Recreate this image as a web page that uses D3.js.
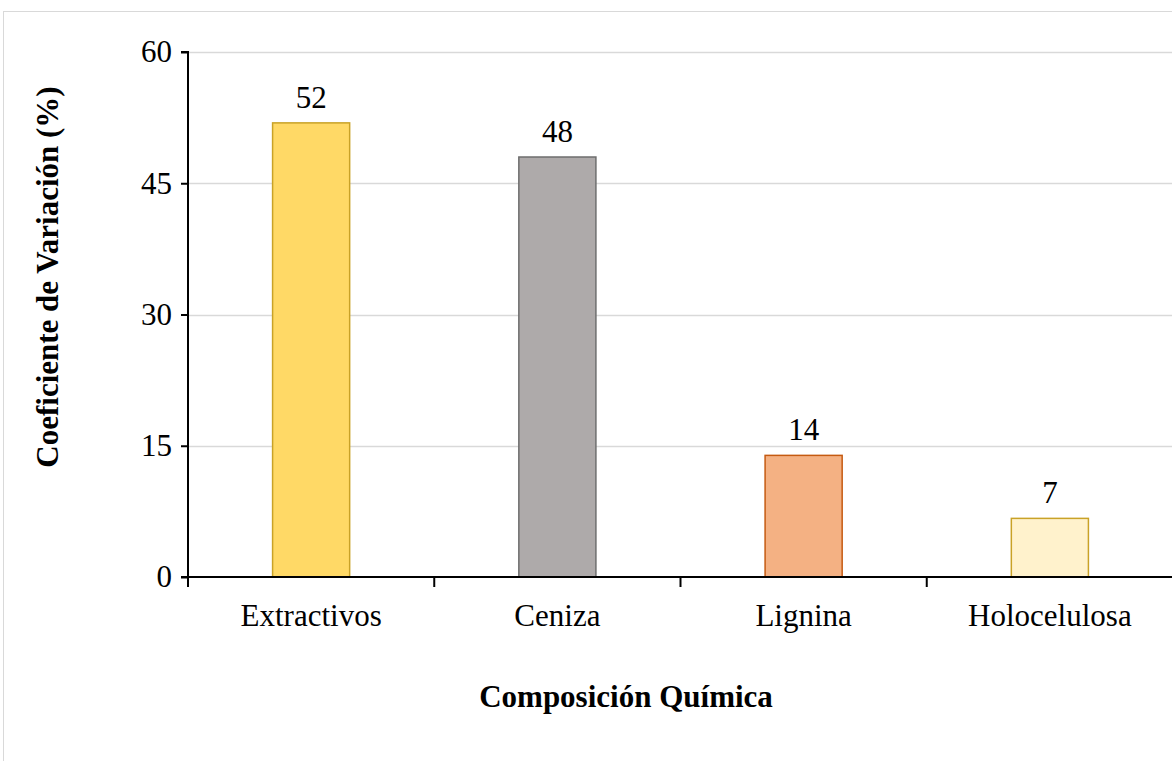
<!DOCTYPE html>
<html lang="es">
  <head>
    <meta charset="utf-8">
    <style>
      body { margin: 0; background: #fff; }
      text { font-family: "Liberation Serif", "Times New Roman", serif; fill: #000; }
    </style>
  </head>
  <body>
  <div id="my_dataviz"></div>

  <script src="https://d3js.org/d3.v7.min.js"></script>
  <script>

// data
var categories = ["Extractivos", "Ceniza", "Lignina", "Holocelulosa"]
var values = [51.9, 48.0, 13.9, 6.7]
var valueLabels = ["52", "48", "14", "7"]
var yTicks = [0, 15, 30, 45, 60]

var fills = ["#FFD966", "#AEAAAA", "#F4B183", "#FFF2CC"]
var strokes = ["#C9A227", "#6E6E6E", "#C55A11", "#C9A227"]

var width = 1172,
    height = 761
var margin = {top: 52, right: 0, bottom: 184, left: 188}
var fs = "31px"

var svg = d3.select("#my_dataviz")
  .append("svg")
    .attr("width", width)
    .attr("height", height)

// chart frame
svg.append("rect")
  .attr("x", 3.5).attr("y", 11.5)
  .attr("width", width).attr("height", height)
  .attr("fill", "none")
  .attr("stroke", "#d9d9d9")

var x = d3.scaleBand()
  .domain(categories)
  .range([margin.left, width + 1])
  .paddingInner(0.687)
  .paddingOuter(0.3435)

var y = d3.scaleLinear()
  .domain([0, 60])
  .range([height - margin.bottom, margin.top])

// gridlines
svg.selectAll(".grid")
  .data(yTicks.filter(function(d){ return d > 0 }))
  .enter()
  .append("line")
    .attr("x1", margin.left)
    .attr("x2", width)
    .attr("y1", function(d){ return Math.round(y(d)) + 0.5 })
    .attr("y2", function(d){ return Math.round(y(d)) + 0.5 })
    .attr("stroke", "#d9d9d9")
    .attr("stroke-width", 1.5)

// bars
svg.selectAll("mybars")
  .data(values)
  .enter()
  .append("rect")
    .attr("x", function(d, i){ return x(categories[i]) })
    .attr("y", function(d){ return y(d) })
    .attr("width", x.bandwidth())
    .attr("height", function(d){ return y(0) - y(d) })
    .attr("fill", function(d, i){ return fills[i] })
    .attr("stroke", function(d, i){ return strokes[i] })
    .attr("stroke-width", 1.5)

// value labels
svg.selectAll("mylabels")
  .data(values)
  .enter()
  .append("text")
    .attr("x", function(d, i){ return x(categories[i]) + x.bandwidth() / 2 })
    .attr("y", function(d){ return y(d) - 15 })
    .attr("text-anchor", "middle")
    .style("font-size", fs)
    .text(function(d, i){ return valueLabels[i] })

// y axis
var yAxis = svg.append("g")
  .attr("transform", "translate(" + margin.left + ",0)")
  .call(d3.axisLeft(y).tickValues(yTicks).tickSize(7).tickPadding(9))
yAxis.selectAll("path, line").attr("stroke", "#000").attr("stroke-width", 2)
yAxis.select(".domain").attr("d", "M-7," + y(60) + "H0V" + y(0))
yAxis.selectAll("text").style("font-size", fs).attr("font-family", null)

// x axis, ticks at band boundaries
var xAxis = svg.append("g")
  .attr("transform", "translate(0," + y(0) + ")")
xAxis.append("line")
  .attr("x1", margin.left - 7).attr("x2", width)
  .attr("stroke", "#000").attr("stroke-width", 2)
xAxis.selectAll(".bt")
  .data(d3.range(categories.length + 1))
  .enter()
  .append("line")
    .attr("x1", function(i){ return margin.left + i * (width + 1 - margin.left) / categories.length })
    .attr("x2", function(i){ return margin.left + i * (width + 1 - margin.left) / categories.length })
    .attr("y1", 0).attr("y2", 10)
    .attr("stroke", "#000").attr("stroke-width", 2)
xAxis.selectAll(".cl")
  .data(categories)
  .enter()
  .append("text")
    .attr("x", function(d){ return x(d) + x.bandwidth() / 2 })
    .attr("y", 49)
    .attr("text-anchor", "middle")
    .style("font-size", fs)
    .text(function(d){ return d })

// axis titles
svg.append("text")
  .attr("x", 626)
  .attr("y", 707)
  .attr("text-anchor", "middle")
  .style("font-size", fs)
  .style("font-weight", "bold")
  .text("Composición Química")

svg.append("text")
  .attr("transform", "translate(58,277) rotate(-90)")
  .attr("text-anchor", "middle")
  .style("font-size", fs)
  .style("font-weight", "bold")
  .text("Coeficiente de Variación (%)")

</script>
</body>
</html>
